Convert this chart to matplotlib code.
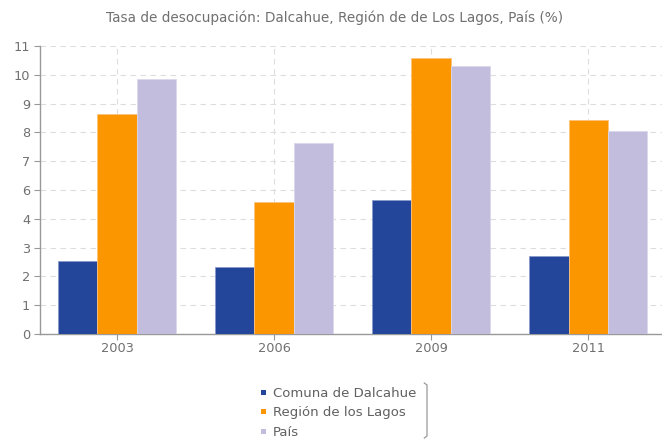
import matplotlib
matplotlib.use("Agg")
import matplotlib.pyplot as plt
from matplotlib.lines import Line2D
import numpy as np

categories = ["2003", "2006", "2009", "2011"]
series_names = ["Comuna de Dalcahue", "Región de los Lagos", "País"]
dalcahue = [2.79, 2.55, 5.11, 2.99]
los_lagos = [8.40, 5.03, 10.53, 8.16]
pais = [9.73, 7.30, 10.24, 7.75]
ytick_values = [0, 1.1, 2.2, 3.3, 4.4, 5.5, 6.6, 7.7, 8.8, 9.9, 11]
ytick_labels = ["0", "1", "2", "3", "4", "6", "7", "8", "9", "10", "11"]
title = "Tasa de desocupación: Dalcahue, Región de de Los Lagos, País (%)"

colors = ["#23469a", "#fb9600", "#c2bcdd"]
edge = ["#8a9acb", "#fcc27a", "#dcd8ec"]

fig = plt.figure(figsize=(6.62, 4.40), dpi=100)
ax = fig.add_axes([40/662, 1-334/440, 1-40/662, (334-46)/440])

x = np.arange(len(categories))
w = 0.25
for i, (vals, c, ec) in enumerate(zip([dalcahue, los_lagos, pais], colors, edge)):
    ax.bar(x + (i-1)*w, vals, width=w, color=c, edgecolor=ec, linewidth=0.6,
           label=series_names[i], zorder=3)

ax.set_xlim(-0.49, 3.47)
ax.set_ylim(0, 11)
ax.set_yticks(ytick_values)
ax.set_yticklabels(ytick_labels)
ax.set_xticks(x)
ax.set_xticklabels(categories)

grid_c = "#dddddd"
ax.grid(True, axis="both", linestyle=(0, (5, 4)), color=grid_c, linewidth=0.8, zorder=0)
for s in ["top", "right"]:
    ax.spines[s].set_visible(False)
for s in ["left", "bottom"]:
    ax.spines[s].set_color("#999999")
    ax.spines[s].set_linewidth(1.0)
ax.tick_params(axis="both", colors="#999999", length=4, width=0.8,
               labelcolor="#707070", labelsize=9.3, pad=2)
ax.tick_params(axis="y", pad=3)

fig.text(335/662, 1-18/440, title, ha="center", va="center", fontsize=9.8, color="#707070")

leg = fig.legend(loc="upper left", bbox_to_anchor=(254/662, 1-380/440), frameon=False,
                 fontsize=9.5, labelcolor="#606060", handlelength=0.6, handleheight=0.5,
                 handletextpad=0.35, labelspacing=0.5, borderpad=0)
for h in leg.legend_handles:
    h.set_height(3.6)
    h.set_width(3.6)
    h.set_y(h.get_y() + 0.8)
    h.set_linewidth(0)

# right bracket of the legend box
bx = 427/662
fig.add_artist(Line2D([bx-0.004, bx, bx, bx-0.004],
                      [1-383/440, 1-385/440, 1-436/440, 1-438/440],
                      transform=fig.transFigure, color="#999999", linewidth=0.9))

fig.savefig("out.png", dpi=100)
